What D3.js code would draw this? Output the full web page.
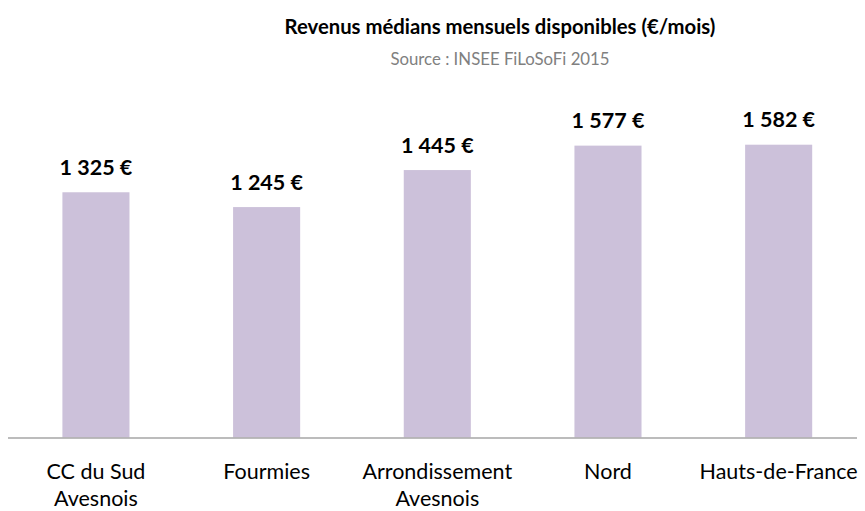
<!DOCTYPE html>
<html>
<head>
<meta charset="utf-8">
<script src="https://cdn.jsdelivr.net/npm/d3@7"></script>
<style>
  body { margin: 0; background: #fff; }
  svg { display: block; font-family: Lato, "Open Sans", sans-serif; }
</style>
</head>
<body>
<div id="chart"></div>
<script>
// chart data
var categories = [["CC du Sud", "Avesnois"], ["Fourmies"], ["Arrondissement", "Avesnois"], ["Nord"], ["Hauts-de-France"]];
var values = [1325, 1245, 1445, 1577, 1582];
var valueLabels = ["1 325 €", "1 245 €", "1 445 €", "1 577 €", "1 582 €"];

var width = 865, height = 511;
var baseline = 437.5;

var svg = d3.select('#chart').append('svg')
  .attr('width', width)
  .attr('height', height);

// titles
svg.append('text')
  .attr('x', 500).attr('y', 34)
  .attr('text-anchor', 'middle')
  .style('font-size', '20.3px').style('font-weight', 'bold')
  .style('fill', '#000')
  .text('Revenus médians mensuels disponibles (€/mois)');

svg.append('text')
  .attr('x', 500).attr('y', 65)
  .attr('text-anchor', 'middle')
  .style('font-size', '16.8px')
  .style('fill', '#808080')
  .text('Source : INSEE FiLoSoFi 2015');

var idx = d3.range(values.length);

var x = d3.scaleBand()
  .domain(idx)
  .range([10.6, 864])
  .paddingInner(0.607)
  .paddingOuter(0.3035);

var y = d3.scaleLinear()
  .domain([0, 1582])
  .range([baseline, baseline - 292.8]);

svg.selectAll('rect.bar')
  .data(idx)
  .enter().append('rect')
  .attr('class', 'bar')
  .attr('x', function(i){ return x(i); })
  .attr('y', function(i){ return y(values[i]); })
  .attr('width', x.bandwidth())
  .attr('height', function(i){ return y(0) - y(values[i]); })
  .style('fill', '#ccc1da');

// value labels
svg.selectAll('text.val')
  .data(idx)
  .enter().append('text')
  .attr('class', 'val')
  .attr('x', function(i){ return x(i) + x.bandwidth()/2; })
  .attr('y', function(i){ return y(values[i]) - 17.5; })
  .attr('text-anchor', 'middle')
  .style('font-size', '21.5px').style('font-weight', 'bold')
  .style('fill', '#000')
  .text(function(i){ return valueLabels[i]; });

// axis line
svg.append('line')
  .attr('x1', 8).attr('x2', 857)
  .attr('y1', baseline + 0.5).attr('y2', baseline + 0.5)
  .style('stroke', '#a6a6a6').style('stroke-width', 1.3);

// category labels
var cat = svg.selectAll('text.cat')
  .data(idx)
  .enter().append('text')
  .attr('class', 'cat')
  .attr('text-anchor', 'middle')
  .style('font-size', '21.5px')
  .style('fill', '#000');

cat.selectAll('tspan')
  .data(function(i){ return categories[i].map(function(t){ return {t: t, i: i}; }); })
  .enter().append('tspan')
  .attr('x', function(d){ return x(d.i) + x.bandwidth()/2; })
  .attr('y', function(d, k){ return 479 + k * 27; })
  .text(function(d){ return d.t; });
</script>
</body>
</html>
